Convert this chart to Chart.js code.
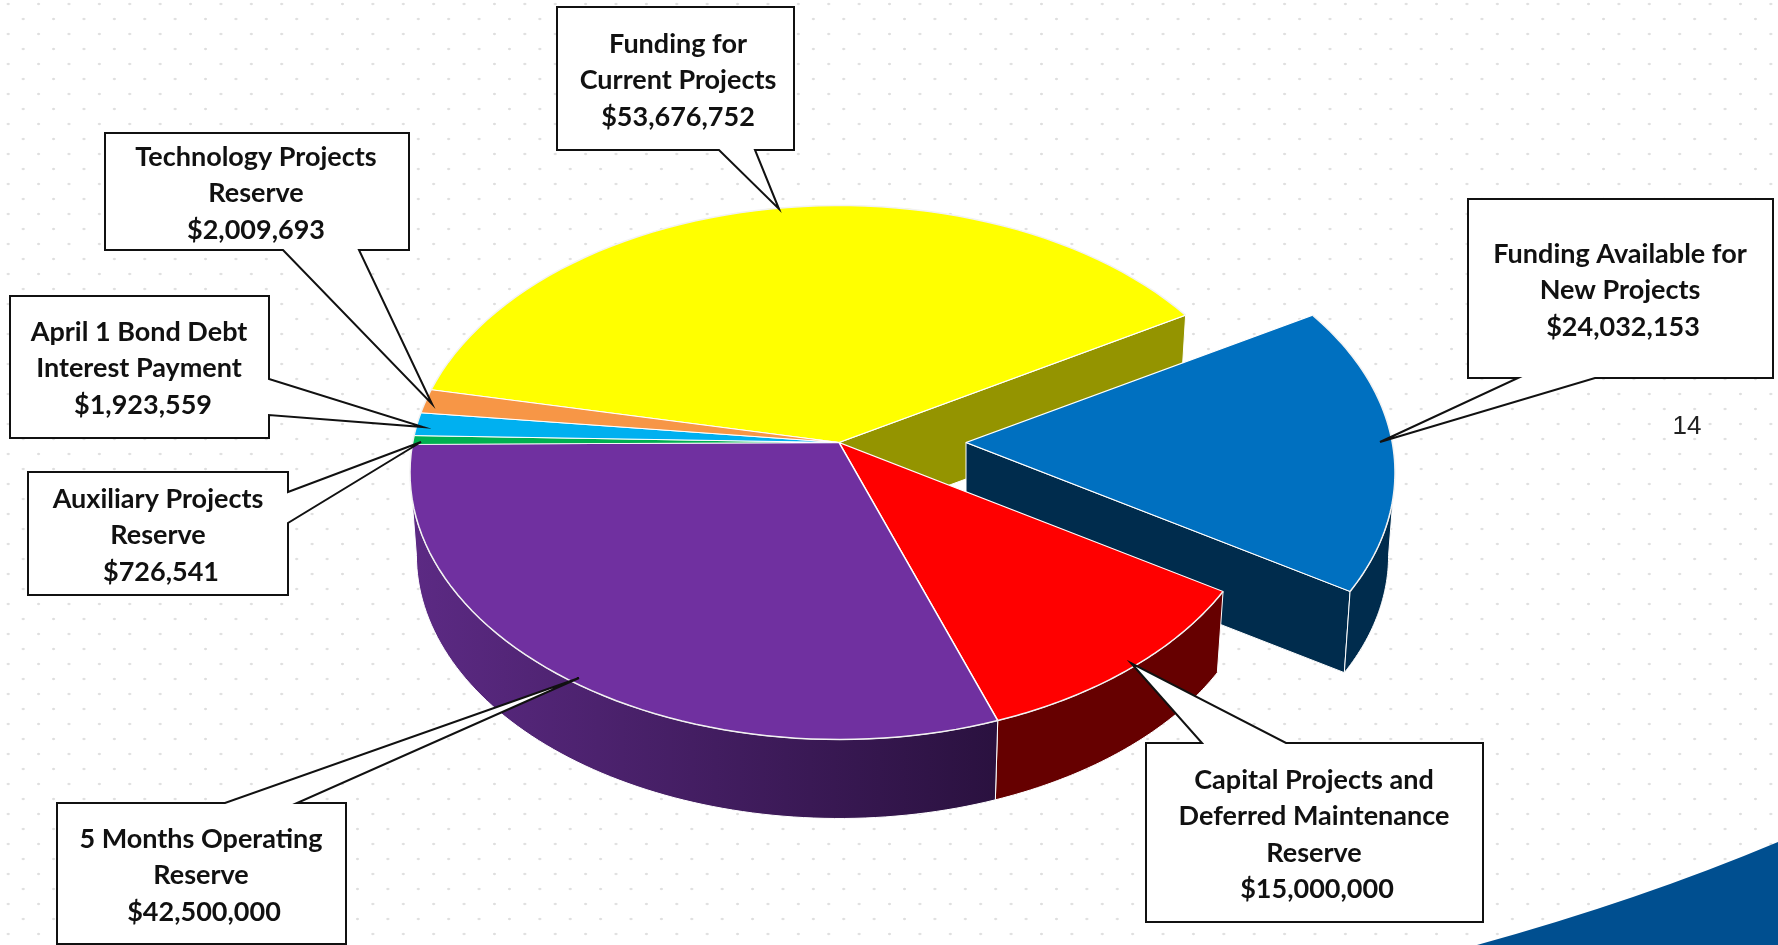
<!DOCTYPE html>
<html>
<head>
<meta charset="utf-8">
<title>Reserves</title>
<script src="https://cdn.jsdelivr.net/npm/chart.js@4/dist/chart.umd.js"></script>
<style>
  html, body { margin: 0; padding: 0; width: 1778px; height: 945px; overflow: hidden; background-color: #fff; }
  body {
    background-image: radial-gradient(circle, #dedede 1px, transparent 1.6px), radial-gradient(circle, #dedede 1px, transparent 1.6px);
    background-size: 30.4px 30px;
    background-position: -7px -11px, 8px 4px;
  }
  canvas { position: absolute; left: 0; top: 0; }
</style>
</head>
<body>
<canvas id="pie" width="1778" height="945"></canvas>
<script>
// === DATA ===
const sliceNames = ["Funding for|Current Projects", "Funding Available for|New Projects", "Capital Projects and|Deferred Maintenance|Reserve", "5 Months Operating|Reserve", "Auxiliary Projects|Reserve", "April 1 Bond Debt|Interest Payment", "Technology Projects|Reserve"];
const sliceValues = [53676752, 24032153, 15000000, 42500000, 726541, 1923559, 2009693];
const sliceColors = ["#ffff00", "#0070c0", "#ff0000", "#7030a0", "#00b050", "#00b0f0", "#f79646"];
const pageNumber = "14";

// === CALLOUT LAYOUT === (box, pointer base on one side, pointer tip, text centre, first line y, value nudge)
const callouts = [
    { box: [557, 7, 794, 150], side: "bottom", base: [719, 755], tip: [779, 209], tx: 678, ty: 44, vdx: 0 },
    { box: [1468, 199, 1773, 378], side: "bottom", base: [1518, 1595], tip: [1380, 442], tx: 1620, ty: 254, vdx: 3 },
    { box: [1146, 743, 1483, 922], side: "top", base: [1202, 1286], tip: [1131, 663], tx: 1314, ty: 780, vdx: 3 },
    { box: [57, 803, 346, 944], side: "top", base: [225, 297], tip: [579, 678], tx: 201, ty: 839, vdx: 3 },
    { box: [28, 472, 288, 595], side: "right", base: [492, 523], tip: [421, 442], tx: 158, ty: 499, vdx: 3 },
    { box: [10, 296, 269, 438], side: "right", base: [379, 415], tip: [423, 427], tx: 139, ty: 332, vdx: 4 },
    { box: [105, 133, 409, 250], side: "bottom", base: [283, 359], tip: [432, 404], tx: 256, ty: 157, vdx: 0 }
];

// tilted view. The rim is an ellipse whose centre sits below the apex (perspective),
// the wedges come from the library's arcs squashed by TILT and clipped to that rim.
const TILT = 0.63, RIM_X = 429, RIM_Y = 267, RIM_DROP = 30;
const DEPTH = 83, BOTTOM_SCALE = 0.985, EXPLODE = 127;

// where the ray from the apex at chart angle `angle` meets the rim, as ellipse parameter
function rimParam(angle) {
    const dx = Math.cos(angle), dy = Math.sin(angle) * TILT;
    const a = (dx * dx) / (RIM_X * RIM_X) + (dy * dy) / (RIM_Y * RIM_Y);
    const b = -2 * RIM_DROP * dy / (RIM_Y * RIM_Y);
    const c = (RIM_DROP * RIM_DROP) / (RIM_Y * RIM_Y) - 1;
    const t = (-b + Math.sqrt(b * b - 4 * a * c)) / (2 * a);
    const p = Math.atan2((t * dy - RIM_DROP) / RIM_Y, t * dx / RIM_X);
    return p < 0 ? p + Math.PI * 2 : p;
}

function rimRange(arc) {
    let p0 = rimParam(arc.startAngle);
    const p1 = rimParam(arc.endAngle);
    if (p0 > p1) p0 -= Math.PI * 2;
    return [p0, p1];
}

function rimPoint(arc, p, bottom, shift) {
    const s = bottom ? BOTTOM_SCALE : 1;
    return [
        arc.x + shift + RIM_X * s * Math.cos(p),
        arc.y + RIM_DROP + (bottom ? DEPTH : 0) + RIM_Y * s * Math.sin(p)
    ];
}

function tracePoly(ctx, pts) {
    ctx.beginPath();
    pts.forEach((p, i) => (i ? ctx.lineTo(p[0], p[1]) : ctx.moveTo(p[0], p[1])));
}

function fillPoly(ctx, pts, fill, edge) {
    tracePoly(ctx, pts);
    ctx.closePath();
    ctx.fillStyle = fill;
    ctx.fill();
    if (edge) {
        ctx.strokeStyle = edge;
        ctx.lineWidth = 1;
        ctx.stroke();
    }
}

// outer wall of a slice, only the part that faces the viewer
function outerWall(ctx, arc, shift, fill) {
    const [p0, p1] = rimRange(arc);
    const a0 = Math.max(p0, 0), a1 = Math.min(p1, Math.PI);
    const steps = 80, top = [], low = [];
    for (let i = 0; i <= steps; i++) {
        const p = a0 + (a1 - a0) * i / steps;
        top.push(rimPoint(arc, p, false, shift));
        low.unshift(rimPoint(arc, p, true, shift));
    }
    fillPoly(ctx, top.concat(low), fill, "#ffffff");
}

// flat wall along the radius that ends at rim parameter p
function radialWall(ctx, arc, p, shift, fill) {
    const apex = [arc.x + shift, arc.y];
    fillPoly(ctx, [apex, rimPoint(arc, p, false, shift), rimPoint(arc, p, true, shift), [apex[0], apex[1] + DEPTH]], fill, "#ffffff");
}

// top face goes through the library's own arc element
function drawFace(ctx, arc, shift) {
    ctx.save();
    ctx.beginPath();
    ctx.ellipse(arc.x + shift, arc.y + RIM_DROP, RIM_X, RIM_Y, 0, 0, Math.PI * 2);
    ctx.clip();
    ctx.translate(arc.x + shift, arc.y);
    ctx.scale(1, TILT);
    ctx.translate(-arc.x, -arc.y);
    arc.draw(ctx);
    ctx.restore();
    // white rim line
    const [p0, p1] = rimRange(arc);
    const steps = 60, rim = [];
    for (let i = 0; i <= steps; i++) rim.push(rimPoint(arc, p0 + (p1 - p0) * i / steps, false, shift));
    tracePoly(ctx, rim);
    ctx.strokeStyle = "#f2f2f2";
    ctx.lineWidth = 1.5;
    ctx.stroke();
}

function drawCallout(ctx, c, lines) {
    const [x0, y0, x1, y1] = c.box;
    let pts;
    if (c.side === "bottom") {
        pts = [[x0, y0], [x1, y0], [x1, y1], [c.base[1], y1], c.tip, [c.base[0], y1], [x0, y1]];
    } else if (c.side === "top") {
        pts = [[x0, y0], [c.base[0], y0], c.tip, [c.base[1], y0], [x1, y0], [x1, y1], [x0, y1]];
    } else {
        pts = [[x0, y0], [x1, y0], [x1, c.base[0]], c.tip, [x1, c.base[1]], [x1, y1], [x0, y1]];
    }
    ctx.lineJoin = "miter";
    fillPoly(ctx, pts, "#ffffff", null);
    ctx.strokeStyle = "#111111";
    ctx.lineWidth = 2;
    ctx.stroke();
    ctx.fillStyle = "#111111";
    ctx.font = "bold 27px Lato, sans-serif";
    ctx.textAlign = "center";
    ctx.textBaseline = "middle";
    lines.forEach((line, i) => {
        const dx = i === lines.length - 1 ? c.vdx : 0;
        ctx.fillText(line, c.tx + dx, c.ty + i * 36.5);
    });
}

const pie3d = {
    id: "pie3d",
    beforeDraw(chart) {
        // blue corner of the slide
        const ctx = chart.ctx;
        ctx.save();
        ctx.beginPath();
        ctx.moveTo(1477, 945);
        ctx.quadraticCurveTo(1640, 900, 1778, 842);
        ctx.lineTo(1778, 945);
        ctx.closePath();
        ctx.fillStyle = "#004f90";
        ctx.fill();
        ctx.restore();
    },
    beforeDatasetsDraw(chart) {
        const ctx = chart.ctx;
        const arcs = chart.getDatasetMeta(0).data;
        const [yellow, blue, red, purple] = arcs;
        ctx.save();
        // back to front
        radialWall(ctx, yellow, rimParam(yellow.endAngle), 0, "#949400");
        radialWall(ctx, blue, rimParam(blue.endAngle), EXPLODE, "#002c4d");
        outerWall(ctx, blue, EXPLODE, "#002c4d");
        drawFace(ctx, blue, EXPLODE);
        outerWall(ctx, red, 0, "#660000");
        const grad = ctx.createLinearGradient(purple.x - RIM_X, 0, rimPoint(purple, rimParam(purple.startAngle), false, 0)[0], 0);
        grad.addColorStop(0, "#5c2a84");
        grad.addColorStop(1, "#2a113f");
        outerWall(ctx, purple, 0, grad);
        [yellow, red, purple, arcs[4], arcs[5], arcs[6]].forEach(arc => drawFace(ctx, arc, 0));
        ctx.restore();
        return false;
    },
    afterDraw(chart) {
        const ctx = chart.ctx;
        ctx.save();
        callouts.forEach((c, i) => {
            const lines = sliceNames[i].split("|").concat("$" + sliceValues[i].toLocaleString("en-US"));
            drawCallout(ctx, c, lines);
        });
        ctx.fillStyle = "#222222";
        ctx.font = "26px 'Liberation Sans', Arial, sans-serif";
        ctx.textAlign = "center";
        ctx.textBaseline = "middle";
        ctx.fillText(pageNumber, 1687, 427);
        ctx.restore();
    }
};

new Chart(document.getElementById("pie"), {
    type: "pie",
    data: {
        labels: sliceNames.map(n => n.replace(/\|/g, " ")),
        datasets: [{
            data: sliceValues,
            backgroundColor: sliceColors,
            borderColor: "#ffffff",
            borderWidth: 1.5,
            radius: 490
        }]
    },
    options: {
        responsive: false,
        animation: false,
        events: [],
        rotation: 281.6,
        layout: { padding: { right: 100, bottom: 60 } },
        plugins: { legend: { display: false }, tooltip: { enabled: false } }
    },
    plugins: [pie3d]
});
</script>
</body>
</html>
